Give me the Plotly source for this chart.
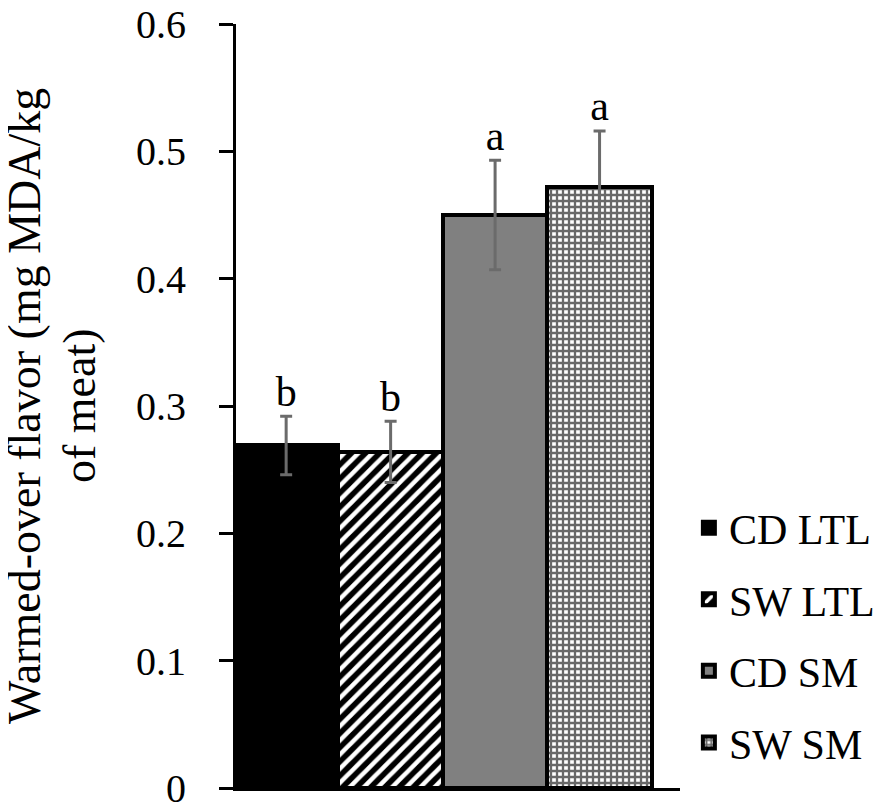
import plotly.graph_objects as go

categories = ["CD LTL", "SW LTL", "CD SM", "SW SM"]
means = [0.269, 0.264, 0.450, 0.472]
errors = [0.023, 0.024, 0.043, 0.044]
letters = ["b", "b", "a", "a"]
y_ticks = [0, 0.1, 0.2, 0.3, 0.4, 0.5, 0.6]
y_title_lines = ["Warmed-over flavor (mg MDA/kg", "of meat)"]

FONT = "Liberation Serif"

fills = [
    dict(color="black", pattern=None),
    dict(color="black", pattern=dict(shape="/", fgcolor="white", bgcolor="black", size=10, solidity=0.45, fillmode="replace")),
    dict(color="#808080", pattern=None),
    dict(color="white", pattern=dict(shape="+", fgcolor="#686868", bgcolor="white", size=6, solidity=0.62, fillmode="replace")),
]

fig = go.Figure()
for i, cat in enumerate(categories):
    marker = dict(color=fills[i]["color"], line=dict(color="black", width=4))
    if fills[i]["pattern"]:
        marker["pattern"] = fills[i]["pattern"]
    fig.add_trace(go.Bar(
        x=[cat], y=[means[i]], name=cat, width=[1.0],
        marker=marker,
        error_y=dict(type="data", array=[errors[i]], color="#6b6b6b", thickness=3, width=6),
        legendgroup=cat,
    ))

fig.add_trace(go.Scatter(
    x=categories, y=[m + e for m, e in zip(means, errors)], text=letters,
    mode="text", textposition="top center",
    textfont=dict(family=FONT, size=42, color="black"),
    showlegend=False, hoverinfo="skip",
))

# two-line rotated y-axis title (tighter line spacing than Plotly's default)
for line, xpos in zip(y_title_lines, [-0.4775, -0.3536]):
    fig.add_annotation(
        text=line, xref="paper", yref="paper", x=xpos, y=0.5,
        xanchor="center", yanchor="middle", textangle=-90, showarrow=False,
        font=dict(family=FONT, size=46, color="black"),
    )

fig.update_layout(
    width=886, height=806,
    margin=dict(l=228, r=214, t=16, b=26, autoexpand=False),
    paper_bgcolor="white", plot_bgcolor="white",
    barmode="overlay", bargap=0,
    font=dict(family=FONT, color="black"),
    legend=dict(
        x=1.02, y=0.385, xanchor="left", yanchor="top",
        font=dict(family=FONT, size=42, color="black"),
        tracegroupgap=14, traceorder="grouped",
        bgcolor="rgba(0,0,0,0)",
    ),
    showlegend=True,
)
fig.update_xaxes(
    type="category", range=[-0.48, 3.77], showticklabels=False, ticks="",
    showline=True, linecolor="black", linewidth=3, showgrid=False, zeroline=False,
    automargin=False,
)
fig.update_yaxes(
    range=[0, 0.6], tickvals=y_ticks, ticktext=[str(t) for t in y_ticks],
    ticks="outside", ticklen=14, tickwidth=3, tickcolor="black",
    ticklabelstandoff=25, ticklabeloverflow="allow",
    showline=True, linecolor="black", linewidth=3, showgrid=False, zeroline=False,
    tickfont=dict(family=FONT, size=40, color="black"),
    automargin=False,
)

fig.write_html("out.html")
